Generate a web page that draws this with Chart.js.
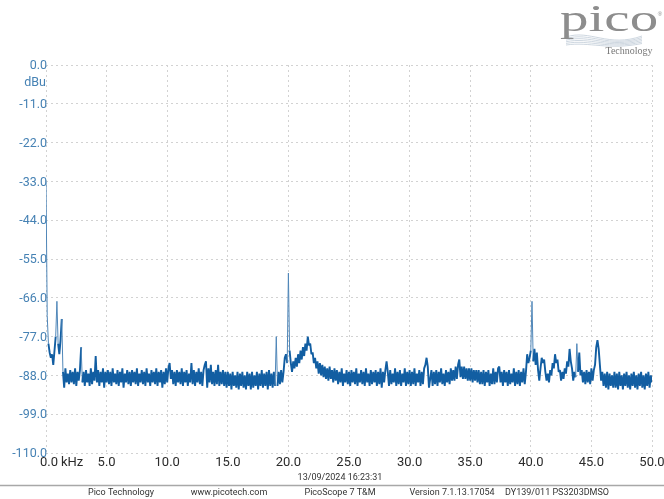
<!DOCTYPE html>
<html>
<head>
<meta charset="utf-8">
<script src="https://cdn.jsdelivr.net/npm/chart.js@4.4.1/dist/chart.umd.min.js"></script>
<style>
  html, body { margin: 0; padding: 0; background: #fff; }
  #charts { display: block; }
</style>
</head>
<body>
<canvas id="charts" width="664" height="499"></canvas>
<script>
// spectrum level in dBu, one value per 0.1 kHz bin
const levelA = [ // 0.0 - 9.9 kHz
  -33, -71, -79, -81.5, -83, -82, -85, -81, -77, -67,
  -79, -82, -78, -72, -87, -91.5, -86, -90, -87.5, -90.5,
  -86.5, -90, -87, -90.5, -86, -91, -87, -89.5, -86.5, -80,
  -90, -87, -91, -86.5, -90, -87.5, -91, -86, -90.5, -87,
  -89.5, -82.5, -90, -86.5, -91, -87, -90, -86, -91.5, -87,
  -90, -86.5, -90.5, -87, -91, -86, -90, -87.5, -90.5, -86.5,
  -91, -87, -90, -86, -91.5, -87.5, -90, -86.5, -90.5, -87,
  -91, -86.5, -90, -87, -90.5, -86, -91, -87.5, -90, -86.5,
  -90.5, -87, -91, -86, -90, -87.5, -91, -86.5, -90, -87,
  -90.5, -86, -91, -87, -90, -86.5, -91.5, -87, -90.5, -86
];
const levelB = [ // 10.0 - 19.9 kHz
  -90, -86, -84.5, -89, -86.5, -90.5, -87, -91, -86.5, -90,
  -87, -90.5, -86, -91, -87, -90, -86.5, -91, -87.5, -90,
  -84.5, -90.5, -86.5, -91, -87, -90, -86, -90.5, -87, -91,
  -86.5, -85, -84, -91.5, -86, -90, -85, -90.5, -87, -91,
  -86.5, -90.5, -85, -91, -87, -90.5, -86.5, -91, -87, -91.5,
  -87, -91, -87.5, -92, -87, -91, -88, -91.5, -87, -92,
  -87.5, -91, -87, -91.5, -88, -92, -87, -91, -87.5, -92,
  -87, -91.5, -88, -91, -87, -92, -87.5, -91, -86.5, -91.5,
  -87.5, -91, -87, -92, -86.5, -91, -87.5, -91.5, -87, -91,
  -77, -91, -87, -90.5, -86.5, -90, -87, -83, -82, -84.5
];
const levelC = [ // 20.0 - 29.9 kHz
  -59, -81, -84.5, -87, -84, -86, -83, -85.5, -82, -84.5,
  -81, -83.5, -80, -82.5, -79, -81, -77, -79.5, -79, -82,
  -81.5, -84.5, -83, -86, -84, -87.5, -84.5, -88, -85, -88.5,
  -85.5, -89, -86, -89.5, -85.5, -89, -86.5, -90, -86, -89.5,
  -86.5, -90.5, -87, -90, -86, -91, -87.5, -90, -86.5, -90.5,
  -87, -91, -86.5, -90, -87, -90.5, -86, -91, -87.5, -90,
  -86.5, -90.5, -87, -91, -86, -90, -87.5, -91, -86.5, -90.5,
  -87, -90, -86.5, -91, -87, -90.5, -86, -91.5, -87, -90,
  -86.5, -84, -87, -91, -86.5, -90.5, -87.5, -90, -86, -91,
  -87, -90.5, -86.5, -91, -87.5, -90, -86, -91, -87, -90.5
];
const levelD = [ // 30.0 - 39.9 kHz
  -86.5, -91, -87, -90.5, -86, -91, -87.5, -90, -86.5, -91,
  -87, -90.5, -86, -85, -83, -85.5, -91.5, -89, -86.5, -91,
  -87, -90.5, -86.5, -91, -87, -90, -86, -90.5, -87.5, -91,
  -86.5, -90, -87, -90.5, -86, -89.5, -86.5, -89.5, -85.5, -89,
  -85, -83.5, -88.5, -85.5, -89, -85.5, -89, -86, -89.5, -86,
  -89.5, -86, -90, -86.5, -89.5, -86.5, -90, -86.5, -90.5, -87,
  -90.5, -86.5, -91, -87, -90, -86.5, -91, -87.5, -90.5, -86,
  -90.5, -87, -90, -86, -85.5, -90, -87, -91, -86.5, -90,
  -87, -91, -86.5, -90.5, -87.5, -90, -86, -91, -87, -90.5,
  -86.5, -91, -87, -90, -86, -90.5, -87, -82, -84.5, -83
];
const levelE = [ // 40.0 - 50.0 kHz
  -81, -67, -84, -80.5, -85, -81.5, -86.5, -89.5, -86, -83,
  -84.5, -83.5, -87, -89.5, -87.5, -90, -86.5, -88, -84.5, -86,
  -82, -84.5, -83.5, -87, -86.5, -89.5, -87, -89, -86, -87.5,
  -84, -85.5, -80.5, -84, -86, -89.5, -87, -88.5, -79, -87,
  -81.5, -88, -86.5, -90, -87, -90.5, -86.5, -90, -87, -90.5,
  -86, -89.5, -86.5, -85, -80, -78, -80.5, -85, -89.5, -87,
  -91, -87.5, -91.5, -87, -92, -87.5, -91, -88, -91.5, -87,
  -91.5, -87.5, -92, -87, -91, -88, -92, -87.5, -91, -87,
  -91.5, -88, -92, -87.5, -91, -87, -91.5, -88, -92, -87.5,
  -91, -87, -91.5, -88, -92, -87.5, -91, -87, -91.5, -88,
  -90
];
const level = [...levelA, ...levelB, ...levelC, ...levelD, ...levelE];
const binKHz = 0.1;
const freq = level.map((_, i) => +(i * binKHz).toFixed(1));

const freqTicks = [0, 5, 10, 15, 20, 25, 30, 35, 40, 45, 50];
const levelTicks = [0, -11, -22, -33, -44, -55, -66, -77, -88, -99, -110];

const footer = [
  ["Pico Technology", 121],
  ["www.picotech.com", 229],
  ["PicoScope 7 T&M", 340],
  ["Version 7.1.13.17054", 452],
  ["DY139/011 PS3203DMSO", 557]
];

const scopeLabels = {
  id: "scopeLabels",
  afterDraw(chart) {
    const ctx = chart.ctx;
    const xs = chart.scales.x, ys = chart.scales.y;
    ctx.save();

    // level axis
    ctx.font = "12.5px Roboto";
    ctx.fillStyle = "#4682b4";
    ctx.textAlign = "right";
    ctx.textBaseline = "middle";
    levelTicks.forEach(v => ctx.fillText(v.toFixed(1), xs.left + 1, ys.getPixelForValue(v) + 1));
    ctx.fillText("dBu", xs.left, ys.getPixelForValue(0) + 18);

    // frequency axis
    ctx.font = "13px Roboto";
    ctx.fillStyle = "#2b2b2b";
    ctx.textAlign = "center";
    const ly = ys.bottom + 10;
    freqTicks.forEach(v => {
      const px = xs.getPixelForValue(v);
      if (v === 0) {
        ctx.fillText("0.0", px + 3, ly);
        ctx.textAlign = "left";
        ctx.fillText("kHz", px + 15, ly);
        ctx.textAlign = "center";
      } else {
        ctx.fillText(v.toFixed(1), px, ly);
      }
    });

    // time stamp + footer
    ctx.font = "9px 'Liberation Sans Narrow', Roboto, sans-serif";
    ctx.fillStyle = "#333";
    ctx.fillText("13/09/2024 16:23:31", 340, 478);
    ctx.strokeStyle = "#a8a8a8";
    ctx.lineWidth = 1.5;
    ctx.beginPath();
    ctx.moveTo(0, 485.5);
    ctx.lineTo(664, 485.5);
    ctx.stroke();
    footer.forEach(([t, x]) => ctx.fillText(t, x, 493));

    // logo
    ctx.strokeStyle = "#b9c6d3";
    ctx.lineWidth = 0.7;
    for (let k = 0; k < 6; k++) {
      ctx.beginPath();
      ctx.moveTo(566, 37 + k * 1.6);
      ctx.bezierCurveTo(590, 29 + k * 2.5, 608, 48 + k * 0.5, 642, 36 + k * 1.5);
      ctx.stroke();
    }
    ctx.save();
    ctx.translate(560, 31);
    ctx.scale(1.5, 1);
    ctx.font = "38px 'Liberation Serif'";
    ctx.fillStyle = "#8d8d8d";
    ctx.textAlign = "left";
    ctx.textBaseline = "alphabetic";
    ctx.fillText("pico", 0, 0);
    ctx.restore();
    ctx.font = "6px sans-serif";
    ctx.fillStyle = "#8d8d8d";
    ctx.fillText("\u00ae", 660, 14);
    ctx.font = "10px 'Liberation Serif'";
    ctx.fillStyle = "#777";
    ctx.fillText("Technology", 629, 51);

    ctx.restore();
  }
};

// tall narrow lines (spurs) are drawn thin, the noise floor thick
const spur = (c, thin, thick) =>
  Math.abs(c.p1.parsed.y - c.p0.parsed.y) > 7.5 ? thin : thick;

document.addEventListener("DOMContentLoaded", function() {
  const ctx = document.getElementById("charts").getContext("2d");

  const chart = new Chart(ctx, {
    type: "line",
    data: {
      datasets: [
        {
          label: "Channel A",
          data: freq.map((f, i) => ({ x: f, y: level[i] })),
          borderColor: "#125ea2",
          borderWidth: 1.9,
          borderJoinStyle: "bevel",
          pointRadius: 0,
          tension: 0,
          fill: false,
          segment: {
            borderWidth: c => spur(c, 1, 1.9),
            borderColor: c => spur(c, "#4f86b8", "#125ea2")
          }
        }
      ]
    },
    options: {
      responsive: false,
      animation: false,
      layout: { padding: { left: 46, right: 12, top: 65, bottom: 46 } },
      scales: {
        x: {
          type: "linear",
          min: 0,
          max: 50,
          ticks: { display: false, stepSize: 5 },
          grid: { color: "#d2d2d2", drawTicks: false },
          border: { display: false, dash: [2, 3] }
        },
        y: {
          min: -110,
          max: 0,
          ticks: { display: false, stepSize: 11 },
          grid: { color: "#d2d2d2", drawTicks: false },
          border: { display: false, dash: [2, 3] }
        }
      },
      plugins: {
        legend: { display: false },
        tooltip: { enabled: false }
      }
    },
    plugins: [scopeLabels]
  });
});
</script>
</body>
</html>
